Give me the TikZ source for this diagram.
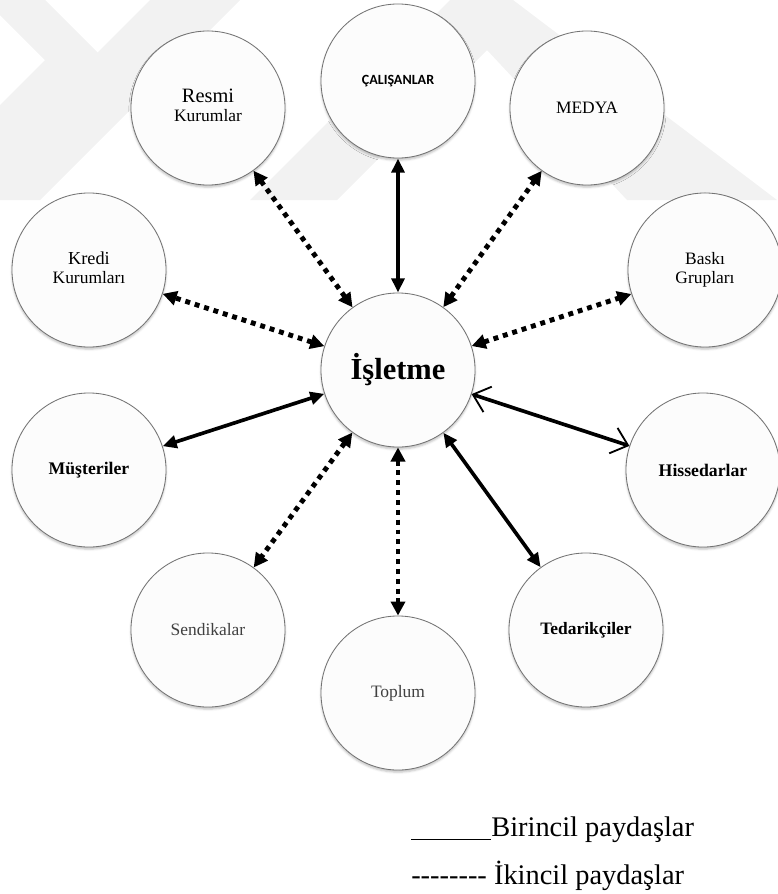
\documentclass[tikz,border=0pt]{standalone}
\usepackage{fontspec}
\setmainfont{Liberation Serif}
\newfontfamily\calfont{Carlito}
\usepackage{tikz}
\usetikzlibrary{arrows.meta,shadows.blur}
\tikzset{
    party/.style={
        circle, draw=black!55, line width=0.6pt, fill=black!1,
        minimum size=3.85cm, inner sep=0pt,
        font=\rmfamily\fontsize{12.4}{14.2}\selectfont,
        blur shadow={shadow xshift=0pt, shadow yshift=-1.5pt,
            shadow blur radius=1.5pt, shadow opacity=25}
    },
    primary/.style={
        line width=2.6pt, {Triangle[length=10pt,width=9pt]}-{Triangle[length=10pt,width=9pt]}
    },
    secondary/.style={
        line width=3.5pt, dash pattern=on 3.5pt off 3.5pt,
        {Triangle[length=10pt,width=10pt]}-{Triangle[length=10pt,width=10pt]}
    },
    wmark/.style={fill=black!5, draw=none}
}
\newcommand{\hy}{\mbox{-}}
\newcommand{\twolines}[2]{\begin{tabular}{@{}c@{}}#1\\#2\end{tabular}}

\begin{document}
\begin{tikzpicture}[x=0.025cm, y=-0.025cm]
    \useasboundingbox (0,0) rectangle (777,894);
    % faint watermark
    \fill[wmark] (0,0) -- (45,0) -- (105,60) -- (0,165) -- (0,105) -- (45,60) -- (0,15) -- cycle;
    \fill[wmark] (150,0) -- (240,0) -- (40,200) -- (0,200) -- (0,150) -- cycle;
    \fill[wmark] (250,200) -- (450,0) -- (513,0) -- (777,200) -- (627,200) -- (487,50) -- (337,200) -- cycle;

    % the firm and its stakeholders
    \node[party, font=\rmfamily\fontsize{21.7}{24}\selectfont\bfseries] (isletme) at (398,370) {İşletme};
    \node[party] (resmi) at (208,108) {\twolines{\fontsize{14.5}{14.2}\selectfont Resmi}{Kurumlar}};
    \node[party] (medya) at (587,108) {MEDYA};
    \node[party] (kredi) at (89,270) {\twolines{\fontsize{13}{14.2}\selectfont Kredi}{Kurumları}};
    \node[party] (baski) at (705,270) {\twolines{Baskı}{Grupları}};
    \node[party, font=\rmfamily\fontsize{12.6}{14}\selectfont\bfseries] (musteri) at (89,470) {Müşteriler};
    \node[party, font=\rmfamily\fontsize{12.6}{14}\selectfont\bfseries] (hisse) at (703,470) {Hissedarlar};
    \node[party, text=black!75] (sendika) at (208,630) {Sendikalar};
    \node[party, font=\rmfamily\fontsize{12.4}{14}\selectfont\bfseries] (tedarik) at (586,630) {Tedarikçiler};
    \node[party, text=black!75] (toplum) at (398,693) {Toplum};
    \node[party, font=\calfont\fontsize{10}{12}\selectfont\bfseries] (calisan) at (398,81) {ÇALIŞANLAR};

    % primary stakeholders
    \draw[primary] (isletme) -- (calisan);
    \draw[primary] (isletme) -- (musteri);
    \draw[primary] (isletme) -- (tedarik);
    \draw[line width=2.6pt, {Straight Barb[length=11pt,width=19pt,line width=1.3pt]}-{Straight Barb[length=11pt,width=19pt,line width=1.3pt]}] (isletme) -- (hisse);
    % secondary stakeholders
    \foreach \p in {resmi,medya,kredi,baski,sendika,toplum}
        \draw[secondary] (isletme) -- (\p);

    % legend
    \node[anchor=base west, inner sep=0pt, font=\rmfamily\fontsize{20.2}{24}\selectfont] (birincil) at (411,836)
        {\rule[-0.1cm]{2cm}{0.03cm}Birincil paydaşlar};
    \node[anchor=base west, inner sep=0pt, font=\rmfamily\fontsize{20.2}{24}\selectfont] (ikincil) at (411,884)
        {\hy\hy\hy\hy\hy\hy\hy\hy{} İkincil paydaşlar};
\end{tikzpicture}
\end{document}
